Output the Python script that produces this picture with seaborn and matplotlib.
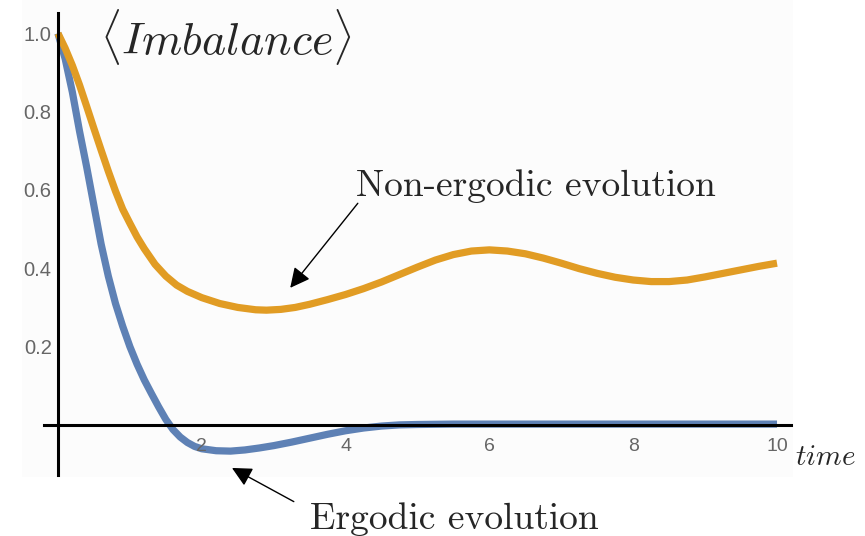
import numpy as np
import pandas as pd
import seaborn as sns
import matplotlib
matplotlib.use("Agg")
import matplotlib.pyplot as plt
from matplotlib.patches import Rectangle
from matplotlib.ticker import FixedLocator

# Imbalance vs time for the two regimes
ergodic_t = [0.00, 0.10, 0.20, 0.30, 0.40, 0.50, 0.60, 0.70, 0.80, 0.90,
             1.00, 1.10, 1.20, 1.30, 1.40, 1.50, 1.60, 1.70, 1.80, 1.90,
             2.00, 2.20, 2.40, 2.60, 2.80, 3.00, 3.25, 3.50, 3.75, 4.00,
             4.25, 4.50, 4.75, 5.00, 5.50, 6.00, 7.00, 8.00, 9.00, 10.00]
ergodic_imb = [1.000, 0.935, 0.850, 0.750, 0.658, 0.560, 0.462, 0.380, 0.310, 0.252,
               0.200, 0.155, 0.115, 0.080, 0.046, 0.014, -0.012, -0.031, -0.045, -0.055,
               -0.061, -0.066, -0.067, -0.064, -0.059, -0.053, -0.044, -0.034, -0.024, -0.015,
               -0.008, -0.003, 0.000, 0.001, 0.002, 0.002, 0.002, 0.002, 0.002, 0.002]

nonergodic_t = [0.00, 0.10, 0.20, 0.30, 0.40, 0.50, 0.60, 0.70, 0.80, 0.90,
                1.00, 1.10, 1.20, 1.35, 1.50, 1.65, 1.80, 2.00, 2.25, 2.50,
                2.75, 2.90, 3.10, 3.30, 3.50, 3.75, 4.00, 4.25, 4.50, 4.75,
                5.00, 5.25, 5.50, 5.75, 6.00, 6.25, 6.50, 6.75, 7.00, 7.25,
                7.50, 7.75, 8.00, 8.25, 8.50, 8.75, 9.00, 9.25, 9.50, 9.75, 10.00]
nonergodic_imb = [1.000, 0.962, 0.918, 0.868, 0.813, 0.757, 0.702, 0.648, 0.597, 0.551,
                  0.515, 0.480, 0.450, 0.410, 0.380, 0.357, 0.341, 0.325, 0.310, 0.300,
                  0.294, 0.293, 0.295, 0.300, 0.308, 0.320, 0.333, 0.348, 0.365, 0.384,
                  0.403, 0.421, 0.435, 0.444, 0.447, 0.444, 0.437, 0.426, 0.413, 0.399,
                  0.387, 0.377, 0.370, 0.366, 0.366, 0.370, 0.378, 0.387, 0.396, 0.405, 0.413]

x_ticks = [2, 4, 6, 8, 10]
y_ticks = [0.2, 0.4, 0.6, 0.8, 1.0]
y_tick_labels = ["0.2", "0.4", "0.6", "0.8", "1.0"]

df = pd.concat([
    pd.DataFrame({"time": ergodic_t, "imbalance": ergodic_imb, "regime": "Ergodic"}),
    pd.DataFrame({"time": nonergodic_t, "imbalance": nonergodic_imb, "regime": "Non-ergodic"}),
], ignore_index=True)

sns.set_style("white")
plt.rcParams["font.family"] = ["Liberation Sans", "DejaVu Sans"]
plt.rcParams["mathtext.fontset"] = "cm"

W, H = 865, 536
fig = plt.figure(figsize=(W / 100, H / 100), dpi=100)

# faint plot-area backdrop
fig.patches.append(Rectangle((22 / W, 1 - 477 / H), (793 - 22) / W, 477 / H,
                             transform=fig.transFigure, facecolor="#fcfcfc",
                             edgecolor="none", zorder=-10))

ax = fig.add_axes([44.3 / W, (H - 475) / H, 747.1 / W, 462.4 / H])
ax.patch.set_alpha(0)

palette = {"Ergodic": "#5E81B5", "Non-ergodic": "#E19C24"}
sns.lineplot(data=df, x="time", y="imbalance", hue="regime",
             hue_order=["Ergodic", "Non-ergodic"], palette=palette,
             linewidth=5.2, legend=False, sort=False, ax=ax,
             solid_capstyle="butt", solid_joinstyle="round")

ax.set_xlim(-0.19, 10.2)
ax.set_ylim(-0.128, 1.053)

# axes crossing at the origin
for s in ["top", "right"]:
    ax.spines[s].set_visible(False)
ax.spines["left"].set_position(("data", 0))
ax.spines["bottom"].set_position(("data", 0))
for s in ["left", "bottom"]:
    ax.spines[s].set_linewidth(2.2)
    ax.spines[s].set_color("black")
    ax.spines[s].set_zorder(3)
ax.set_axisbelow(False)

ax.xaxis.set_major_locator(FixedLocator(x_ticks))
ax.xaxis.set_minor_locator(FixedLocator(np.arange(0.5, 10.01, 0.5)))
ax.yaxis.set_major_locator(FixedLocator(y_ticks))
ax.set_yticklabels(y_tick_labels)
ax.yaxis.set_minor_locator(FixedLocator(np.arange(-0.1, 1.051, 0.05)))

ax.tick_params(which="both", direction="in", color="#555555", width=1.6)
ax.tick_params(which="major", length=6)
ax.tick_params(which="minor", length=3.5)
ax.tick_params(axis="x", which="major", pad=9.5, labelsize=14, labelcolor="#666666")
ax.tick_params(axis="y", which="major", pad=4.5, labelsize=14.5, labelcolor="#666666")
ax.set_xlabel("")
ax.set_ylabel("")

# labels in Computer Modern
ax.text(0.584, 0.99, r"$\langle Imbalance\rangle$", fontsize=33, va="center", ha="left")
ax.text(10.25, -0.102, r"$time$", fontsize=21, va="baseline", ha="left", clip_on=False)

arrow_kw = dict(arrowstyle="-|>,head_length=0.6,head_width=0.3", color="black",
                lw=1.0, mutation_scale=20, shrinkA=0, shrinkB=0)

ax.text(4.15, 0.584, "Non-ergodic evolution", fontsize=27, family="cmr10",
        va="baseline", ha="left")
ax.annotate("", xy=(3.23, 0.350), xytext=(4.17, 0.566),
            arrowprops=arrow_kw, annotation_clip=False)

ax.text(3.51, -0.267, "Ergodic evolution", fontsize=27, family="cmr10",
        va="baseline", ha="left", clip_on=False)
ax.annotate("", xy=(2.42, -0.110), xytext=(3.28, -0.196),
            arrowprops=arrow_kw, annotation_clip=False)

fig.savefig("out.png", dpi=100)
